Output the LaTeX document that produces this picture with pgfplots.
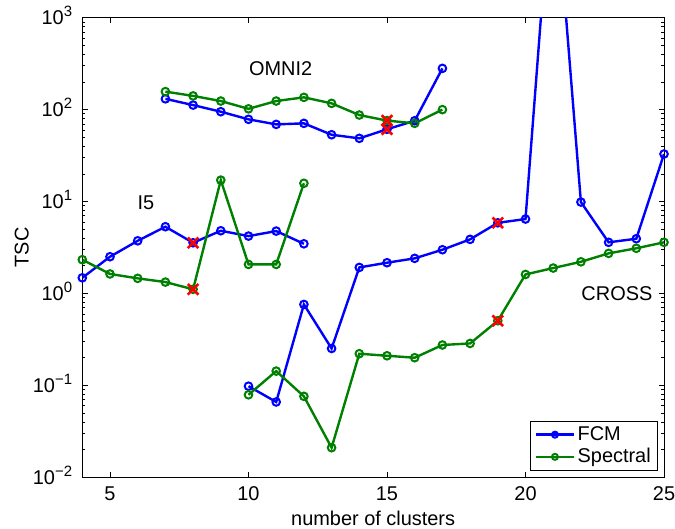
\documentclass[border=0pt]{standalone}
\usepackage{fontspec}
\setmainfont{Liberation Sans}
\usepackage{pgfplots}
\pgfplotsset{compat=1.18}
\definecolor{mblue}{rgb}{0,0,1}
\definecolor{mgreen}{rgb}{0,0.5,0}
\newcommand{\tp}[1]{10\raisebox{8.5bp}{\fontsize{15}{15}\selectfont #1}}
\pgfplotsset{
  ser/.style={#1, line width=2.4bp, mark=o, mark size=3.8bp, mark options={line width=2bp, solid}},
}
\begin{document}
\fontsize{20}{23}\selectfont
\begin{tikzpicture}
\useasboundingbox (0,0) rectangle (675bp,529bp);
\begin{axis}[
  at={(82.3bp,51.7bp)}, anchor=south west,
  scale only axis, width=581.7bp, height=459.6bp,
  ymode=log, log basis y=10,
  xmin=4, xmax=25, ymin=0.01, ymax=1000,
  xtick={5,10,15,20,25},
  xticklabels={5,10,15,20,25},
  ytick={0.01,0.1,1,10,100,1000},
  yticklabels={\tp{−2},\tp{−1},\tp{0},\tp{1},\tp{2},\tp{3}},
  minor ytick={0.02,0.03,0.04,0.05,0.06,0.07,0.08,0.09,0.2,0.3,0.4,0.5,0.6,0.7,0.8,0.9,2,3,4,5,6,7,8,9,20,30,40,50,60,70,80,90,200,300,400,500,600,700,800,900},
  tick align=inside, tick pos=both,
  major tick length=5.5bp, minor tick length=3bp,
  every tick/.style={black, line width=0.7bp},
  axis line style={black, line width=1bp},
  xticklabel style={anchor=center, inner sep=0pt, yshift=-16bp},
  yticklabel style={anchor=base east, inner sep=0pt, xshift=-10bp, yshift=-7.2bp},
  xlabel={number of clusters},
  xlabel style={at={(axis description cs:0.5,-0.0886)}, anchor=center},
  ylabel={TSC},
  ylabel style={at={(axis description cs:-0.1042,0.5)}, anchor=center},
  legend style={at={(1,0)}, anchor=south east, xshift=-6.3bp, yshift=6.3bp,
    draw=black, line width=0.9bp, inner xsep=4bp, inner ysep=2.5bp,
    nodes={inner sep=2.5bp}},
  legend cell align=left,
  legend image code/.code={\draw[mark repeat=2,mark phase=2,#1, mark size=3bp] plot coordinates {(0bp,0bp) (19bp,0bp) (38bp,0bp)};},
  clip=true,
]
% I5 FCM
\addplot[ser=mblue] coordinates {
 (4,1.48)(5,2.51)(6,3.74)(7,5.32)(8,3.56)(9,4.81)(10,4.21)(11,4.77)(12,3.47)};
\addlegendentry{FCM}
% OMNI2 FCM
\addplot[ser=mblue, forget plot] coordinates {
 (7,131)(8,112)(9,94.9)(10,78.4)(11,69.1)(12,70.9)(13,53.3)(14,48.7)(15,61.1)(16,75.7)(17,281)};
% CROSS FCM
\addplot[ser=mblue, forget plot] coordinates {
 (10,0.098)(11,0.066)(12,0.76)(13,0.252)(14,1.92)(15,2.16)(16,2.41)(17,2.99)(18,3.88)(19,5.87)(20,6.45)(21,56000)(22,9.87)(23,3.6)(24,3.94)(25,32.9)};
% I5 Spectral
\addplot[ser=mgreen] coordinates {
 (4,2.33)(5,1.63)(6,1.46)(7,1.33)(8,1.11)(9,17.1)(10,2.07)(11,2.07)(12,15.8)};
\addlegendentry{Spectral}
% OMNI2 Spectral
\addplot[ser=mgreen, forget plot] coordinates {
 (7,157)(8,141)(9,124)(10,102)(11,124)(12,136)(13,117)(14,87.3)(15,76)(16,70.9)(17,100)};
% CROSS Spectral
\addplot[ser=mgreen, forget plot] coordinates {
 (10,0.079)(11,0.143)(12,0.076)(13,0.021)(14,0.221)(15,0.21)(16,0.20)(17,0.275)(18,0.286)(19,0.505)(20,1.61)(21,1.89)(22,2.21)(23,2.73)(24,3.10)(25,3.60)};
% selected
\addplot[red, only marks, mark=x, mark size=7.5bp, mark options={line width=2.6bp}, forget plot] coordinates {
 (8,3.56)(8,1.11)(15,61.1)(15,76)(19,5.87)(19,0.505)};
\node[anchor=center] at (axis cs:11.16,281) {OMNI2};
\node[anchor=center] at (axis cs:6.3,9.8) {I5};
\node[anchor=center] at (axis cs:23.3,1.0) {CROSS};
\end{axis}
\end{tikzpicture}
\end{document}
